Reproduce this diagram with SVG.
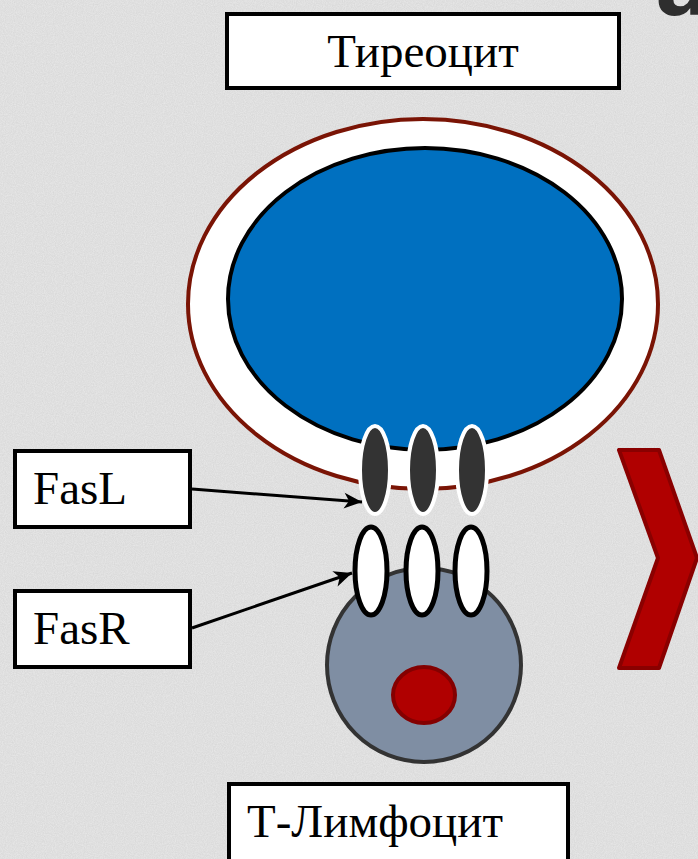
<svg xmlns="http://www.w3.org/2000/svg" width="698" height="859" viewBox="0 0 698 859">
  <defs>
    <style>
      .label { fill: #ffffff; stroke: #000000; stroke-width: 4; }
      .txt { font-family: "Liberation Serif", "Times New Roman", serif; font-size: 47px; fill: #000000; }
      .fasl { fill: #333333; stroke: #ffffff; stroke-width: 4; }
      .fasr { fill: #ffffff; stroke: #000000; stroke-width: 5; }
      .link { fill: none; stroke: #000000; stroke-width: 3; }
    </style>
    <filter id="paper" x="0" y="0" width="100%" height="100%">
      <feTurbulence type="fractalNoise" baseFrequency="0.9" numOctaves="2" seed="4" result="noise"/>
      <feColorMatrix in="noise" type="matrix"
        values="0 0 0 0 0
                0 0 0 0 0
                0 0 0 0 0
                0 0 0 0.18 0" result="grain"/>
      <feComposite in="grain" in2="SourceGraphic" operator="over"/>
    </filter>
    <marker id="head" markerUnits="userSpaceOnUse" markerWidth="22" markerHeight="18"
            viewBox="-20 -9 22 18" refX="0" refY="0" orient="auto">
      <path d="M0,0 L-18,-8 L-13,0 L-18,8 Z" fill="#000000"/>
    </marker>
  </defs>

  <!-- textured paper background -->
  <rect x="0" y="0" width="698" height="859" fill="#e9e9e9" filter="url(#paper)"/>

  <!-- partial heading letter at the top edge -->
  <text x="655" y="15" font-family="DejaVu Sans, sans-serif" font-weight="bold" font-size="84" fill="#2e2e2e">а</text>

  <!-- thyrocyte: membrane and cytoplasm -->
  <g id="thyrocyte">
    <ellipse cx="423" cy="304" rx="235" ry="185" fill="#ffffff" stroke="#7a1405" stroke-width="4"/>
    <ellipse cx="425" cy="299" rx="197" ry="151" fill="#0070c0" stroke="#000000" stroke-width="4"/>
  </g>

  <!-- T-lymphocyte with nucleus -->
  <g id="lymphocyte">
    <circle cx="424" cy="665" r="97" fill="#7f8ea3" stroke="#333333" stroke-width="4"/>
    <ellipse cx="424" cy="695" rx="31" ry="28" fill="#b00000" stroke="#840000" stroke-width="4"/>
  </g>

  <!-- Fas receptors on the lymphocyte -->
  <g id="fasr-receptors">
    <ellipse class="fasr" cx="371" cy="571" rx="16" ry="44"/>
    <ellipse class="fasr" cx="422" cy="571" rx="16" ry="44"/>
    <ellipse class="fasr" cx="471" cy="571" rx="16" ry="44"/>
  </g>

  <!-- Fas ligands on the thyrocyte -->
  <g id="fasl-ligands">
    <ellipse class="fasl" cx="375" cy="470" rx="15" ry="44"/>
    <ellipse class="fasl" cx="423" cy="470" rx="15" ry="44"/>
    <ellipse class="fasl" cx="472" cy="470" rx="15" ry="44"/>
  </g>

  <!-- chevron -->
  <g id="chevron">
    <path d="M619,450 L659,450 L697,558 L659,668 L619,668 L658,558 Z" fill="#b00000" stroke="#8a0000" stroke-width="4" stroke-linejoin="round"/>
  </g>

  <!-- labels -->
  <g id="label-thyrocyte">
    <rect class="label" x="227" y="14" width="392" height="74"/>
    <text class="txt" x="423" y="67" text-anchor="middle">Тиреоцит</text>
  </g>
  <g id="label-fasl">
    <rect class="label" x="15" y="451" width="175" height="76"/>
    <text class="txt" x="33" y="504">FasL</text>
  </g>
  <g id="label-fasr">
    <rect class="label" x="15" y="591" width="175" height="76"/>
    <text class="txt" x="33" y="644">FasR</text>
  </g>
  <g id="label-lymphocyte">
    <rect class="label" x="229" y="784" width="339" height="100"/>
    <text class="txt" x="247" y="837">Т-Лимфоцит</text>
  </g>

  <!-- connectors -->
  <g id="connectors">
    <line class="link" x1="192" y1="489" x2="362" y2="502" marker-end="url(#head)"/>
    <line class="link" x1="192" y1="628" x2="352" y2="573" marker-end="url(#head)"/>
  </g>
</svg>
